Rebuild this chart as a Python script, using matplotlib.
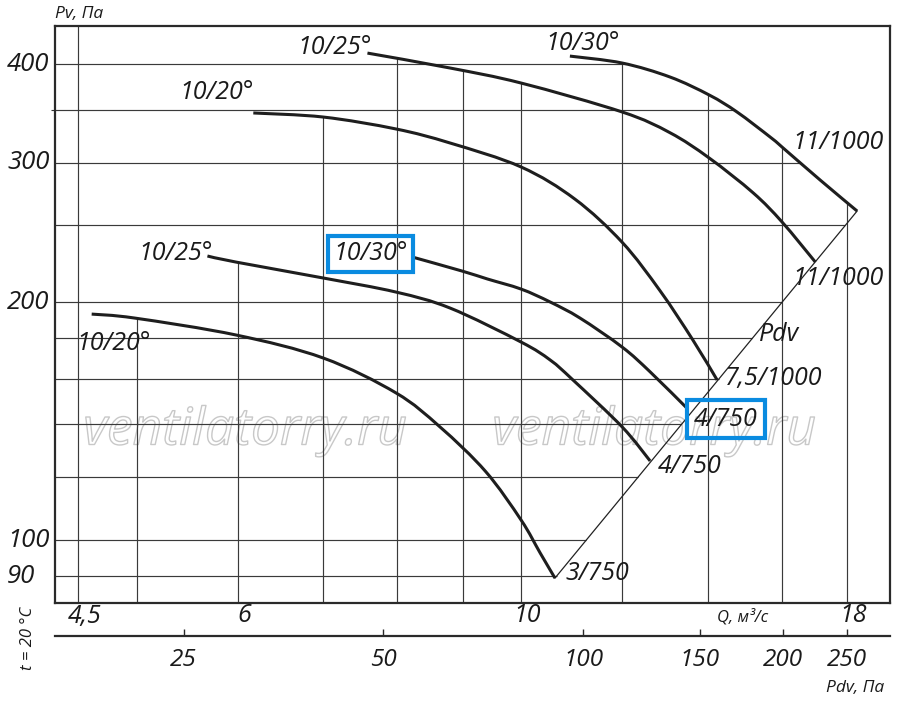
import numpy as np
import matplotlib
matplotlib.use('Agg')
import matplotlib.pyplot as plt
from matplotlib import patheffects
from matplotlib.path import Path
from matplotlib.patches import PathPatch
from matplotlib.transforms import blended_transform_factory, offset_copy

plt.rcParams['font.family'] = ['Open Sans', 'DejaVu Sans']
plt.rcParams['font.style'] = 'italic'

# Характеристики: Q, м3/с  и  Pv, Па
q_a = [4.61, 4.98, 5.98, 7.00, 7.98, 8.64, 9.38, 10.0, 10.35, 10.63]
p_a = [193.1, 190.9, 181.7, 169.9, 153.5, 139.0, 122.1, 106.0, 96.3, 89.5]

q_b = [5.68, 5.98, 7.00, 7.98, 8.80, 10.0, 10.54, 10.98, 12.0, 12.62]
p_b = [228.7, 224.7, 214.5, 205.9, 196.5, 178.0, 168.9, 159.4, 139.0, 125.9]

q_c = [8.22, 8.99, 9.41, 10.0, 10.54, 11.12, 12.0, 12.62, 13.51]
p_c = [228.0, 218.9, 213.9, 207.7, 200.0, 190.9, 175.4, 163.2, 146.4]

q_d = [6.17, 7.00, 7.98, 8.80, 10.0, 11.02, 12.0, 12.85, 13.63, 14.24]
p_d = [346.9, 342.8, 331.1, 317.8, 296.4, 269.9, 238.0, 206.6, 179.1, 159.4]

q_e = [7.58, 8.80, 10.0, 12.0, 13.08, 14.04, 15.20, 16.01, 17.0]
p_e = [413.0, 395.4, 378.5, 347.9, 327.5, 304.2, 274.8, 252.5, 224.7]

q_f = [10.92, 12.0, 13.08, 14.04, 14.76, 15.67, 16.01, 17.15, 18.33]
p_f = [409.4, 401.2, 385.2, 365.5, 347.9, 323.4, 314.1, 285.3, 260.7]

curves = [(q_a, p_a), (q_b, p_b), (q_c, p_c), (q_d, p_d), (q_e, p_e), (q_f, p_f)]

# подписи у начала кривых (угол лопаток) и у конца (мощность/обороты)
start_labels = ['10/20°', '10/25°', '10/30°', '10/20°', '10/25°', '10/30°']
start_pos = [(4.80, 177.5), (5.36, 230.1), (7.62, 230.1), (5.77, 367.7), (7.15, 420.3), (11.18, 425.3)]
end_labels = ['3/750', '4/750', '4/750', '7,5/1000', '11/1000', '11/1000']
end_pos = [(11.47, 90.8), (13.56, 123.7), (14.47, 142.2), (15.76, 160.3), (17.71, 214.5), (17.71, 318.7)]
boxed = [2]  # выделенная кривая

grid_q = [4.5, 5, 6, 7, 8, 9, 10, 12, 14, 16, 18]
grid_p = [90, 100, 120, 140, 160, 180, 200, 250, 300, 350, 400]

q_ticks = [4.5, 6, 10, 18]
q_tick_labels = ['4,5', '6', '10', '18']
p_ticks = [90, 100, 200, 300, 400]
pdv_ticks = [25, 50, 100, 150, 200, 250]

Q_MIN, Q_MAX = 4.315, 19.45
P_MIN, P_MAX = 83.24, 446.9
PDV_MIN, PDV_MAX = 16.0, 290.1

FS = 18

fig = plt.figure(figsize=(9, 7.03), dpi=100)
L, R, T, B = 55 / 900, 890 / 900, 1 - 26 / 703, 1 - 603 / 703
ax = fig.add_axes([L, B, R - L, T - B])
ax.set_xscale('log')
ax.set_yscale('log')
ax.set_xlim(Q_MIN, Q_MAX)
ax.set_ylim(P_MIN, P_MAX)
ax.xaxis.set_major_locator(plt.NullLocator())
ax.xaxis.set_minor_locator(plt.NullLocator())
ax.yaxis.set_major_locator(plt.NullLocator())
ax.yaxis.set_minor_locator(plt.FixedLocator([350]))
ax.yaxis.set_minor_formatter(plt.NullFormatter())
ax.tick_params(axis='y', which='minor', length=3, width=0.8, color='#333333')
for s in ax.spines.values():
    s.set_linewidth(1.6)
    s.set_color('#2a2a2a')


def top_at(q):
    vals = [10 ** np.interp(np.log10(q), np.log10(cq), np.log10(cp))
            for cq, cp in curves if cq[0] <= q <= cq[-1]]
    return max(vals) if vals else P_MAX


# линия динамического давления через концы кривых
dv_q = [q_a[-1], q_f[-1]]
dv_p = [p_a[-1], p_f[-1]]


def right_at(p):
    vals = []
    for cq, cp in curves:
        if min(cp) <= p <= max(cp):
            vals.append(10 ** np.interp(np.log10(p), np.log10(cp[::-1]), np.log10(cq[::-1])))
    if dv_p[0] <= p <= dv_p[1]:
        vals.append(10 ** np.interp(np.log10(p), np.log10(dv_p), np.log10(dv_q)))
    return max(vals) if vals else Q_MAX


def smooth_path(q, p):
    # гладкая линия через снятые точки (Catmull-Rom в логарифмах)
    pts = np.column_stack([np.log10(q), np.log10(p)])
    n = len(pts)
    verts, codes = [pts[0]], [Path.MOVETO]
    for i in range(n - 1):
        p0 = pts[i - 1] if i > 0 else pts[i]
        p1, p2 = pts[i], pts[i + 1]
        p3 = pts[i + 2] if i + 2 < n else pts[i + 1]
        verts += [p1 + (p2 - p0) / 6, p2 - (p3 - p1) / 6, p2]
        codes += [Path.CURVE4] * 3
    return Path(10 ** np.array(verts), codes)


for q in grid_q:
    ax.vlines(q, P_MIN, top_at(q), color='#3a3a3a', lw=0.85, zorder=1)
for p in grid_p:
    ax.hlines(p, Q_MIN, right_at(p), color='#3a3a3a', lw=0.85, zorder=1)

ax.plot(dv_q, dv_p, color='#222222', lw=0.9, zorder=2)
for cq, cp in curves:
    ax.add_patch(PathPatch(smooth_path(cq, cp), fill=False, ec='#1e1e1e', lw=2.2,
                           capstyle='butt', zorder=3))

blue = '#0a8be0'
for i, (txt, (x, y)) in enumerate(zip(start_labels, start_pos)):
    kw = {}
    if i in boxed:
        kw['bbox'] = dict(boxstyle='square,pad=0.22', fc='none', ec=blue, lw=3)
    ax.text(x, y, txt, fontsize=FS, ha='center', va='center', color='#1a1a1a', zorder=4, **kw)
for i, (txt, (x, y)) in enumerate(zip(end_labels, end_pos)):
    kw = {}
    if i in boxed:
        kw['bbox'] = dict(boxstyle='square,pad=0.27', fc='none', ec=blue, lw=3)
    ax.text(x, y, txt, fontsize=FS, ha='center', va='center', color='#1a1a1a', zorder=4, **kw)
ax.text(15.93, 181.7, 'Pdv', fontsize=FS, ha='center', va='center', color='#1a1a1a', zorder=4)

# водяной знак
for xc in (245 / 900, 654 / 900):
    ax.text(xc, 1 - 431 / 703, 'ventilatorry.ru', transform=fig.transFigure, fontsize=37,
            ha='center', va='center', color='none', zorder=0.5,
            path_effects=[patheffects.Stroke(linewidth=1.0, foreground='#c8c8c8')])

# подписи осей
ytr = blended_transform_factory(fig.transFigure, ax.transData)
for p in p_ticks:
    ax.text(7 / 900, p, str(p), transform=ytr, fontsize=FS + 0.5, ha='left', va='center',
            color='#1a1a1a', clip_on=False)
xtr = offset_copy(blended_transform_factory(ax.transData, ax.transAxes), fig=fig, x=6, y=0, units='dots')
for q, lab in zip(q_ticks, q_tick_labels):
    ax.text(q, -13 / 577, lab, transform=xtr, fontsize=FS, ha='center', va='center',
            color='#1a1a1a', clip_on=False)

fig.text(55 / 900, 1 - 14 / 703, 'Pv, Па', fontsize=12.5, ha='left', va='center', color='#1a1a1a')
fig.text(743 / 900, 1 - 617 / 703, 'Q, м³/с', fontsize=12, ha='center', va='center', color='#1a1a1a')
fig.text(855 / 900, 1 - 688 / 703, 'Pdv, Па', fontsize=12.5, ha='center', va='center', color='#1a1a1a')
fig.text(28 / 900, 1 - 638 / 703, 't = 20 °C', fontsize=12, rotation=90, ha='center', va='center',
         color='#1a1a1a')

# шкала динамического давления
ax2 = fig.add_axes([L, 1 - 636 / 703, R - L, 0.0001])
ax2.set_xscale('log')
ax2.set_xlim(PDV_MIN, PDV_MAX)
ax2.set_yticks([])
for side in ('top', 'left', 'right'):
    ax2.spines[side].set_visible(False)
ax2.spines['bottom'].set_linewidth(1.6)
ax2.spines['bottom'].set_color('#2a2a2a')
ax2.xaxis.set_minor_locator(plt.NullLocator())
ax2.set_xticks(pdv_ticks)
ax2.set_xticklabels([str(v) for v in pdv_ticks])
ax2.tick_params(axis='x', direction='in', length=5, width=1, pad=9, labelsize=17.5,
                labelcolor='#1a1a1a', color='#2a2a2a')
ax2.patch.set_visible(False)

fig.savefig('out.png', dpi=100)
